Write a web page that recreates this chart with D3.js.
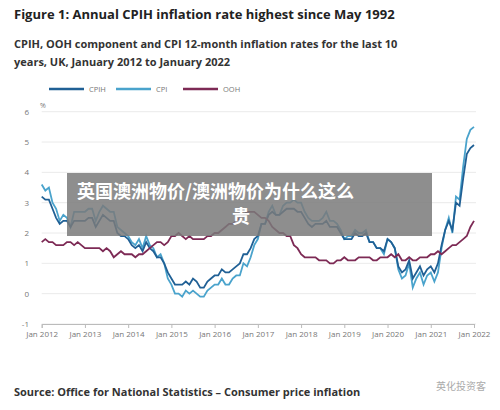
<!DOCTYPE html>
<html><head><meta charset="utf-8">
<script src="https://cdnjs.cloudflare.com/ajax/libs/d3/7.8.5/d3.min.js"></script>
<style>body{margin:0;background:#fff;font-family:"Open Sans",sans-serif;}</style>
</head><body><div id="chart"></div>
<script>
const width = 500, height = 410;

const cpih = [3.2,3.1,3.1,2.8,2.5,2.3,2.4,2.4,2.2,2.4,2.4,2.4,
  2.4,2.5,2.5,2.2,2.4,2.6,2.5,2.4,2.4,2.0,1.9,1.9,
  1.8,1.6,1.5,1.6,1.4,1.7,1.5,1.4,1.2,1.2,1.0,0.7,
  0.5,0.3,0.3,0.3,0.4,0.3,0.5,0.4,0.2,0.2,0.4,0.5,
  0.6,0.6,0.8,0.7,0.7,0.8,0.9,1.0,1.3,1.3,1.5,1.8,
  1.9,2.3,2.3,2.6,2.7,2.6,2.6,2.7,2.8,2.8,2.8,2.7,
  2.7,2.5,2.3,2.2,2.3,2.3,2.3,2.4,2.2,2.2,2.2,2.0,
  1.8,1.8,1.8,2.0,1.9,1.9,2.0,1.7,1.7,1.5,1.5,1.4,
  1.8,1.7,1.5,0.9,0.7,0.8,1.1,0.5,0.7,0.9,0.6,0.8,
  0.9,0.7,1.0,1.6,2.1,2.4,2.1,3.0,2.9,3.8,4.6,4.8,
  4.9];
const cpi = [3.6,3.4,3.5,3.0,2.8,2.4,2.6,2.5,2.2,2.7,2.7,2.7,
  2.7,2.8,2.8,2.4,2.7,2.9,2.8,2.7,2.7,2.2,2.1,2.0,
  1.9,1.7,1.6,1.8,1.5,1.9,1.6,1.5,1.2,1.3,1.0,0.5,
  0.3,0.0,0.0,-0.1,0.1,0.0,0.1,0.0,-0.1,-0.1,0.1,0.2,
  0.3,0.3,0.5,0.3,0.3,0.5,0.6,0.6,1.0,0.9,1.2,1.6,
  1.8,2.3,2.3,2.7,2.9,2.6,2.6,2.9,3.0,3.0,3.1,3.0,
  3.0,2.7,2.5,2.4,2.4,2.4,2.5,2.7,2.4,2.4,2.3,2.1,
  1.8,1.9,1.9,2.1,2.0,2.0,2.1,1.7,1.7,1.5,1.5,1.3,
  1.8,1.7,1.5,0.8,0.5,0.6,1.0,0.2,0.5,0.7,0.3,0.6,
  0.7,0.4,0.7,1.5,2.1,2.5,2.0,3.2,3.1,4.2,5.1,5.4,
  5.5];
const ooh = [1.7,1.8,1.7,1.7,1.6,1.6,1.6,1.7,1.7,1.6,1.7,1.6,
  1.5,1.5,1.5,1.5,1.5,1.4,1.5,1.4,1.2,1.3,1.4,1.3,
  1.3,1.3,1.2,1.3,1.3,1.4,1.5,1.6,1.7,1.7,1.6,1.7,
  1.9,1.9,2.0,1.9,1.8,1.9,1.8,1.8,1.8,1.8,1.9,1.9,
  2.0,2.0,2.1,2.2,2.3,2.3,2.4,2.5,2.6,2.7,2.7,2.7,
  2.6,2.5,2.5,2.4,2.2,2.1,2.0,2.0,1.9,1.9,1.6,1.5,
  1.3,1.2,1.2,1.2,1.2,1.1,1.1,1.1,1.0,1.0,1.1,1.1,
  1.2,1.1,1.1,1.1,1.2,1.2,1.2,1.2,1.1,1.1,1.2,1.2,
  1.2,1.3,1.2,1.3,1.1,1.1,1.2,1.1,1.1,1.2,1.2,1.2,
  1.3,1.3,1.4,1.3,1.4,1.5,1.6,1.6,1.7,1.8,1.9,2.2,
  2.4];
const years = d3.range(2012, 2023);
const yTicks = [-1, 0, 1, 2, 3, 4, 5, 6];

const series = [
  {name: "CPIH", values: cpih, color: "#206095"},
  {name: "CPI", values: cpi, color: "#4aa3cc"},
  {name: "OOH", values: ooh, color: "#7d2a55"}
];

const svg = d3.select("#chart").append("svg")
  .attr("width", width).attr("height", height);

svg.append("text").attr("x", 14).attr("y", 19)
  .attr("font-size", 13).attr("font-weight", "bold").attr("fill", "#222")
  .text("Figure 1: Annual CPIH inflation rate highest since May 1992");
svg.append("text").attr("x", 14).attr("y", 48)
  .attr("font-size", 11).attr("font-weight", "bold").attr("fill", "#333")
  .text("CPIH, OOH component and CPI 12-month inflation rates for the last 10");
svg.append("text").attr("x", 14).attr("y", 66)
  .attr("font-size", 11).attr("font-weight", "bold").attr("fill", "#333")
  .text("years, UK, January 2012 to January 2022");

const x = d3.scaleLinear().domain([0, 120]).range([41.7, 474]);
const y = d3.scaleLinear().domain([-1, 6]).range([324, 111.7]);

svg.append("g").selectAll("line").data(yTicks).enter().append("line")
  .attr("x1", 41.7).attr("x2", 476)
  .attr("y1", d => y(d)).attr("y2", d => y(d))
  .attr("stroke", "#e4e4e4").attr("stroke-width", 0.8);

svg.append("g").selectAll("text").data(yTicks).enter().append("text")
  .attr("x", 29).attr("y", d => y(d) + 3)
  .attr("text-anchor", "end").attr("font-size", 8).attr("fill", "#777")
  .text(d => d);
svg.append("text").attr("x", 40).attr("y", 108).attr("font-size", 7).attr("fill", "#777").text("%");

const xAxis = d3.axisBottom(x)
  .tickValues(years.map((yr, i) => i * 12))
  .tickFormat((d, i) => "Jan " + years[i]).tickSize(4);
const gx = svg.append("g").attr("transform", `translate(0,${y(-1)})`).call(xAxis);
gx.select(".domain").attr("stroke", "#bbb");
gx.selectAll(".tick line").attr("stroke", "#bbb");
gx.selectAll("text").attr("font-size", 8).attr("fill", "#777")
  .attr("font-family", "Open Sans, sans-serif");

const line = d3.line().x((d, i) => x(i)).y(d => y(d));
svg.append("g").selectAll("path").data([series[1], series[0], series[2]]).enter().append("path")
  .attr("d", d => line(d.values)).attr("fill", "none")
  .attr("stroke", d => d.color).attr("stroke-width", 1.8);

const legend = svg.append("g").selectAll("g").data(series).enter().append("g")
  .attr("transform", (d, i) => `translate(${49 + i * 67},89)`);
legend.append("line").attr("x1", 0).attr("x2", 35)
  .attr("stroke", d => d.color).attr("stroke-width", 2.5);
legend.append("text").attr("x", 40).attr("y", 3)
  .attr("font-size", 7.5).attr("fill", "#777").text(d => d.name);

svg.append("text").attr("x", 14).attr("y", 396)
  .attr("font-size", 11).attr("font-weight", "bold").attr("fill", "#333")
  .text("Source: Office for National Statistics – Consumer price inflation");
svg.append("text").attr("x", 486).attr("y", 390).attr("text-anchor", "end")
  .attr("font-size", 10).attr("fill", "#aaa")
  .attr("font-family", "Noto Sans CJK SC").text("英化投资客");

svg.append("rect").attr("x", 67).attr("y", 173).attr("width", 365).attr("height", 63)
  .attr("fill", "#7a7a7a").attr("opacity", 0.85);
svg.append("text").attr("x", 77).attr("y", 198)
  .attr("font-size", 18).attr("font-weight", "bold").attr("fill", "#fff")
  .attr("font-family", "Noto Sans CJK SC").text("英国澳洲物价/澳洲物价为什么这么");
svg.append("text").attr("x", 241).attr("y", 223).attr("text-anchor", "middle")
  .attr("font-size", 18).attr("font-weight", "bold").attr("fill", "#fff")
  .attr("font-family", "Noto Sans CJK SC").text("贵");
</script></body></html>
